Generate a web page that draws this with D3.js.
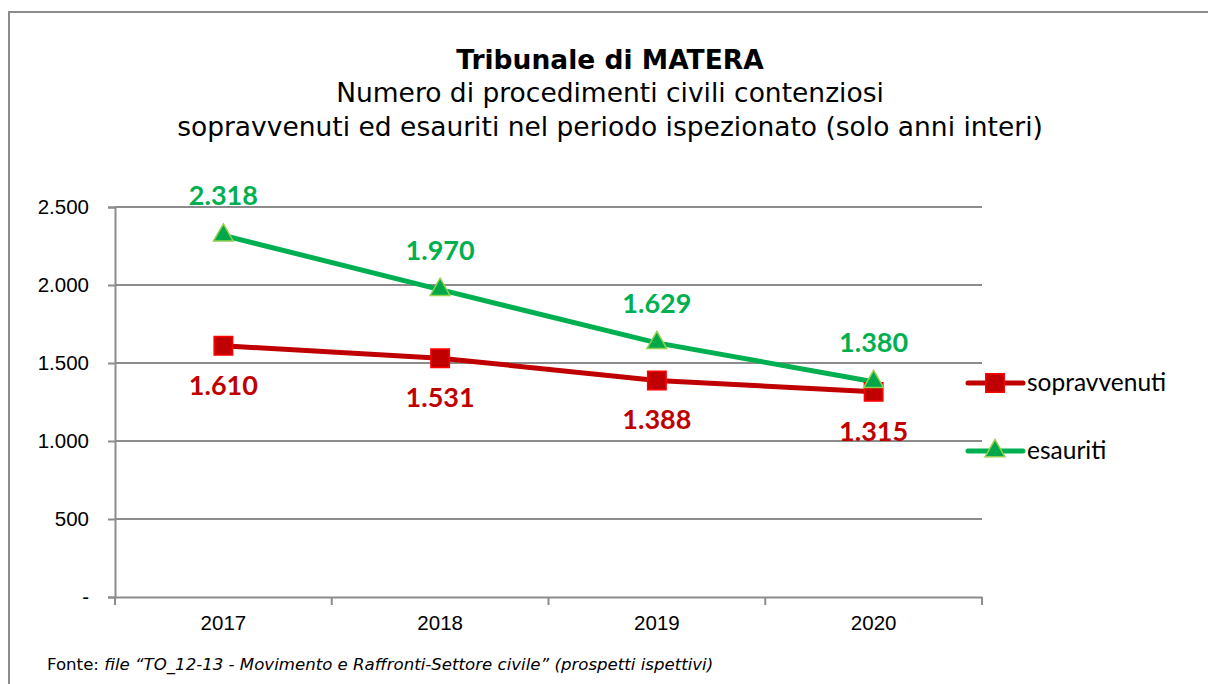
<!DOCTYPE html>
<html>
<head>
<meta charset="utf-8">
<script src="https://cdn.jsdelivr.net/npm/d3@7"></script>
<style>
  body { margin: 0; background: #fff; }
</style>
</head>
<body>
<div id="chart"></div>
<script>
// data
let years = ["2017", "2018", "2019", "2020"];
let sopravvenuti = [1610, 1531, 1388, 1315];
let esauriti = [2318, 1970, 1629, 1380];
let yTicks = [0, 500, 1000, 1500, 2000, 2500];

let svgWidth = 1208;
let svgHeight = 684;

// plot area inside the frame
let margin = { top: 207, left: 115, bottom: 87, right: 226 };
let width = svgWidth - margin.left - margin.right;
let height = svgHeight - margin.top - margin.bottom;

let fmt = d3.formatLocale({ decimal: ",", thousands: ".", grouping: [3], currency: ["", "€"] }).format(",d");

let svg = d3.select("#chart")
    .append("svg")
    .attr("width", svgWidth)
    .attr("height", svgHeight);

// outer frame
svg.append("rect")
    .attr("x", 9).attr("y", 12)
    .attr("width", svgWidth + 20).attr("height", svgHeight + 20)
    .attr("fill", "none")
    .attr("stroke", "#8c8c8c")
    .attr("stroke-width", 2);

// titles
let titleSize = 26.5;
svg.append("text")
    .attr("x", 610).attr("y", 69)
    .attr("text-anchor", "middle")
    .attr("font-family", "DejaVu Sans")
    .attr("font-weight", "bold")
    .attr("font-size", titleSize)
    .text("Tribunale di MATERA");

svg.append("text")
    .attr("x", 610).attr("y", 102)
    .attr("text-anchor", "middle")
    .attr("font-family", "DejaVu Sans")
    .attr("font-size", titleSize)
    .text("Numero di procedimenti civili contenziosi");

svg.append("text")
    .attr("x", 610).attr("y", 136)
    .attr("text-anchor", "middle")
    .attr("font-family", "DejaVu Sans")
    .attr("font-size", titleSize)
    .text("sopravvenuti ed esauriti nel periodo ispezionato (solo anni interi)");

let chartGroup = svg.append("g")
    .attr("transform", `translate(${margin.left}, ${margin.top})`);

// scales
let xBand = d3.scaleBand()
    .domain(years)
    .range([0, width]);

let yLinearScale = d3.scaleLinear()
    .domain([0, 2500])
    .range([height, 0]);

// gridlines
chartGroup.append("g")
    .selectAll("line")
    .data(yTicks.filter(d => d > 0))
    .enter()
    .append("line")
    .attr("x1", 0).attr("x2", width)
    .attr("y1", d => yLinearScale(d)).attr("y2", d => yLinearScale(d))
    .attr("stroke", "#8c8c8c")
    .attr("stroke-width", 2);

// y axis
let yAxis = d3.axisLeft(yLinearScale)
    .tickValues(yTicks)
    .tickSize(7)
    .tickPadding(19)
    .tickFormat(d => d === 0 ? "-" : fmt(d));

let yG = chartGroup.append("g").call(yAxis);
yG.select(".domain").attr("stroke", "#8c8c8c").attr("stroke-width", 2);
yG.selectAll(".tick line").attr("stroke", "#8c8c8c").attr("stroke-width", 2);
yG.selectAll("text")
    .attr("font-family", "Liberation Sans")
    .attr("font-size", 20.5)
    .attr("fill", "#000");

// x axis, ticks between categories
let xAxis = d3.axisBottom(xBand).tickSize(0).tickPadding(18);
let xG = chartGroup.append("g")
    .attr("transform", `translate(0, ${height})`)
    .call(xAxis);
xG.select(".domain").attr("stroke", "#8c8c8c").attr("stroke-width", 2);
xG.selectAll("text")
    .attr("font-family", "Liberation Sans")
    .attr("font-size", 20.5)
    .attr("fill", "#000");

xG.selectAll(".sep")
    .data(d3.range(years.length + 1))
    .enter()
    .append("line")
    .attr("x1", i => i * xBand.step()).attr("x2", i => i * xBand.step())
    .attr("y1", 0).attr("y2", 8)
    .attr("stroke", "#8c8c8c")
    .attr("stroke-width", 2);

let cx = d => xBand(d) + xBand.bandwidth() / 2;

let line = d3.line()
    .x((d, i) => cx(years[i]))
    .y(d => yLinearScale(d));

// series styles
let series = [
    { name: "sopravvenuti", values: sopravvenuti, color: "#C00000", marker: d3.symbolSquare, mFill: "#C00000", mStroke: "#FF0000", size: 340, labelDy: 49 },
    { name: "esauriti", values: esauriti, color: "#00B050", marker: d3.symbolTriangle, mFill: "#00A84A", mStroke: "#92D050", size: 170, labelDy: -30 }
];

series.forEach(function (s) {
    chartGroup.append("path")
        .datum(s.values)
        .attr("d", line)
        .attr("fill", "none")
        .attr("stroke", s.color)
        .attr("stroke-width", 5);
});

series.forEach(function (s) {
    chartGroup.selectAll(".m-" + s.name)
        .data(s.values)
        .enter()
        .append("path")
        .attr("d", d3.symbol().type(s.marker).size(s.size))
        .attr("transform", (d, i) => `translate(${cx(years[i])}, ${yLinearScale(d)})`)
        .attr("fill", s.mFill)
        .attr("stroke", s.mStroke)
        .attr("stroke-width", 1.5);

    chartGroup.selectAll(".l-" + s.name)
        .data(s.values)
        .enter()
        .append("text")
        .attr("x", (d, i) => cx(years[i]))
        .attr("y", d => yLinearScale(d) + s.labelDy)
        .attr("text-anchor", "middle")
        .attr("font-family", "Lato")
        .attr("font-weight", "bold")
        .attr("font-size", 27)
        .attr("fill", s.color)
        .text(d => fmt(d));
});

// legend
let legend = svg.append("g");
series.forEach(function (s, i) {
    let ly = 383 + i * 68;
    legend.append("line")
        .attr("x1", 968).attr("x2", 1023)
        .attr("y1", ly).attr("y2", ly)
        .attr("stroke", s.color)
        .attr("stroke-width", 5)
        .attr("stroke-linecap", "round");
    legend.append("path")
        .attr("d", d3.symbol().type(s.marker).size(s.size))
        .attr("transform", `translate(995, ${ly})`)
        .attr("fill", s.mFill)
        .attr("stroke", s.mStroke)
        .attr("stroke-width", 1.5);
    legend.append("text")
        .attr("x", 1027).attr("y", ly + 8)
        .attr("font-family", "Lato")
        .attr("font-size", 24.5)
        .attr("fill", "#000")
        .text(s.name);
});

// source note
let note = svg.append("text")
    .attr("x", 47).attr("y", 670)
    .attr("font-family", "DejaVu Sans")
    .attr("font-size", 16.6)
    .attr("fill", "#000");
note.append("tspan").text("Fonte: ");
note.append("tspan")
    .attr("font-style", "italic")
    .text("file \u201CTO_12-13 - Movimento e Raffronti-Settore civile\u201D (prospetti ispettivi)");
</script>
</body>
</html>
